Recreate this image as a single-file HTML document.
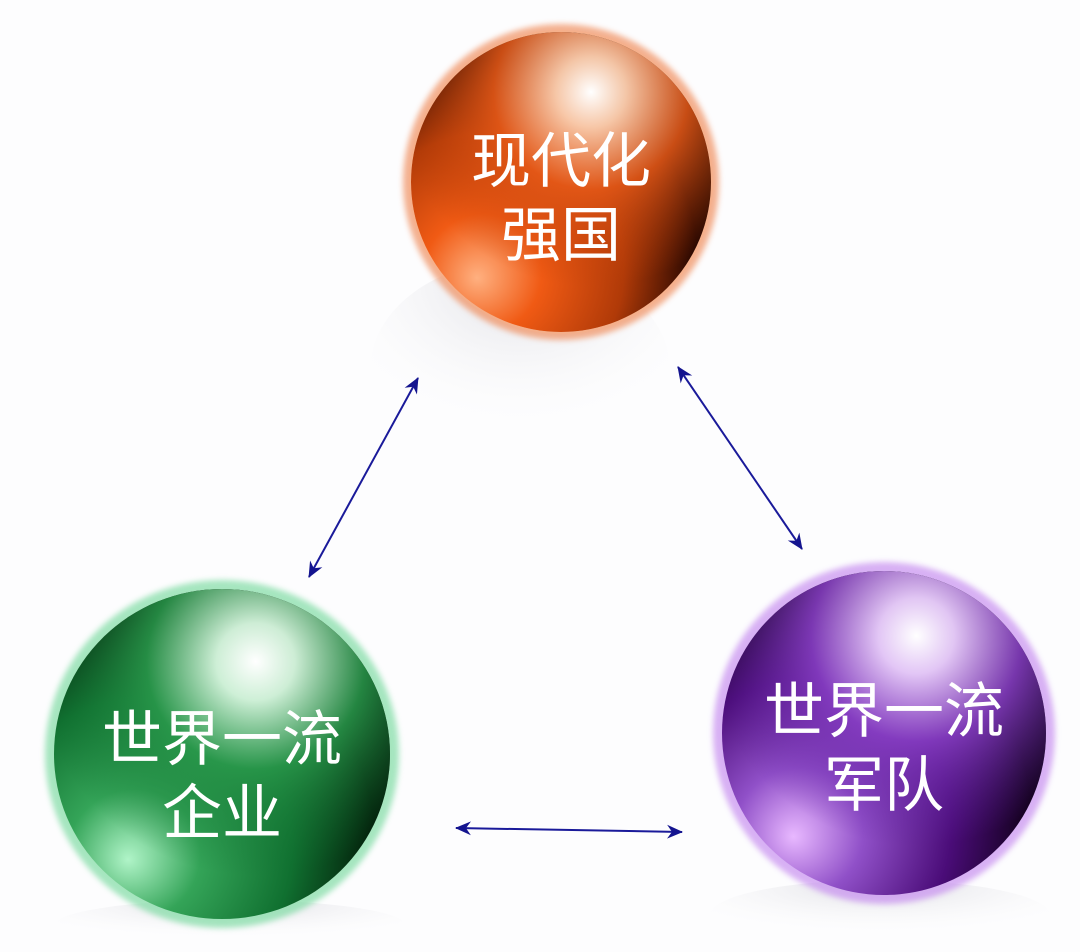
<!DOCTYPE html>
<html><head><meta charset="utf-8"><style>
html,body{margin:0;padding:0;background:#fdfdfe;width:1080px;height:952px;overflow:hidden;}
svg{display:block}
text{font-family:"Liberation Sans","Noto Sans CJK SC",sans-serif;fill:#fff;text-anchor:middle}
</style></head><body>
<svg width="1080" height="952" viewBox="0 0 1080 952" xmlns="http://www.w3.org/2000/svg">
<defs>
<filter id="bl" x="-20%" y="-20%" width="140%" height="140%"><feGaussianBlur stdDeviation="3"/></filter>
<radialGradient id="refl" cx="0.5" cy="0.1" r="0.7">
<stop offset="0" stop-color="#dcdce2" stop-opacity="0.9"/>
<stop offset="1" stop-color="#ffffff" stop-opacity="0"/>
</radialGradient>
<radialGradient id="oBase" cx="0.3" cy="0.75" r="0.9" fx="0.22" fy="0.82">
<stop offset="0" stop-color="#ffb080"/>
<stop offset="0.22" stop-color="#f05a14"/>
<stop offset="0.5" stop-color="#b03a08"/>
<stop offset="0.75" stop-color="#200400"/>
<stop offset="1" stop-color="#000"/>
</radialGradient>
<radialGradient id="oTop" cx="0.6" cy="0.2" r="0.65">
<stop offset="0" stop-color="#fff" stop-opacity="1"/>
<stop offset="0.18" stop-color="#ffd0b0" stop-opacity="0.95"/>
<stop offset="0.5" stop-color="#e85a18" stop-opacity="0.85"/>
<stop offset="1" stop-color="#c04008" stop-opacity="0"/>
</radialGradient>
<radialGradient id="gBase" cx="0.3" cy="0.75" r="0.9" fx="0.22" fy="0.82">
<stop offset="0" stop-color="#b0f4c8"/>
<stop offset="0.22" stop-color="#34a458"/>
<stop offset="0.5" stop-color="#107030"/>
<stop offset="0.75" stop-color="#021a08"/>
<stop offset="1" stop-color="#000"/>
</radialGradient>
<radialGradient id="gTop" cx="0.6" cy="0.22" r="0.65">
<stop offset="0" stop-color="#fff" stop-opacity="1"/>
<stop offset="0.18" stop-color="#d8f8e0" stop-opacity="0.95"/>
<stop offset="0.5" stop-color="#2a9a4c" stop-opacity="0.85"/>
<stop offset="1" stop-color="#107030" stop-opacity="0"/>
</radialGradient>
<radialGradient id="pBase" cx="0.3" cy="0.75" r="0.9" fx="0.22" fy="0.82">
<stop offset="0" stop-color="#e8b8ff"/>
<stop offset="0.22" stop-color="#9050c8"/>
<stop offset="0.5" stop-color="#4a0c78"/>
<stop offset="0.75" stop-color="#100018"/>
<stop offset="1" stop-color="#000"/>
</radialGradient>
<radialGradient id="pTop" cx="0.6" cy="0.2" r="0.65">
<stop offset="0" stop-color="#fff" stop-opacity="1"/>
<stop offset="0.18" stop-color="#ecd0ff" stop-opacity="0.95"/>
<stop offset="0.5" stop-color="#8a40c8" stop-opacity="0.85"/>
<stop offset="1" stop-color="#6020a0" stop-opacity="0"/>
</radialGradient>
<marker id="ah" viewBox="0 0 16 16" refX="15" refY="8" markerWidth="16" markerHeight="16" markerUnits="userSpaceOnUse" orient="auto-start-reverse">
<path d="M0,1 L16,8 L0,15 L5,8 Z" fill="#14148f"/>
</marker>
</defs>

<ellipse cx="520" cy="370" rx="150" ry="110" fill="url(#refl)"/>
<ellipse cx="230" cy="925" rx="175" ry="25"  fill="url(#refl)"/>
<ellipse cx="880" cy="915" rx="170" ry="35" fill="url(#refl)"/>

<circle cx="561" cy="182" r="158" fill="#f09060" opacity="0.7" filter="url(#bl)"/>
<circle cx="561" cy="182" r="150" fill="url(#oBase)"/>
<circle cx="561" cy="182" r="150" fill="url(#oTop)"/>
<circle cx="561" cy="182" r="151" fill="none" stroke="#f8b088" stroke-width="2" opacity="0.5"/>
<text x="561" y="182" font-size="60">现代化</text>
<text x="561" y="256" font-size="60">强国</text>

<ellipse cx="222" cy="754" rx="177" ry="174" fill="#80dca4" opacity="0.7" filter="url(#bl)"/>
<ellipse cx="222" cy="754" rx="168" ry="165" fill="url(#gBase)"/>
<ellipse cx="222" cy="754" rx="168" ry="165" fill="url(#gTop)"/>
<text x="222" y="760" font-size="60">世界一流</text>
<text x="222" y="834" font-size="60">企业</text>

<ellipse cx="884" cy="733" rx="171" ry="171" fill="#c890f0" opacity="0.7" filter="url(#bl)"/>
<ellipse cx="884" cy="733" rx="162" ry="162" fill="url(#pBase)"/>
<ellipse cx="884" cy="733" rx="162" ry="162" fill="url(#pTop)"/>
<text x="884" y="732" font-size="60">世界一流</text>
<text x="884" y="806" font-size="60">军队</text>

<g stroke="#1a1a9a" stroke-width="2" fill="none">
<line x1="309" y1="577" x2="418" y2="378" marker-start="url(#ah)" marker-end="url(#ah)"/>
<line x1="678" y1="367" x2="802" y2="549" marker-start="url(#ah)" marker-end="url(#ah)"/>
<line x1="456" y1="828" x2="682" y2="832" marker-start="url(#ah)" marker-end="url(#ah)"/>
</g>
</svg>
</body></html>
